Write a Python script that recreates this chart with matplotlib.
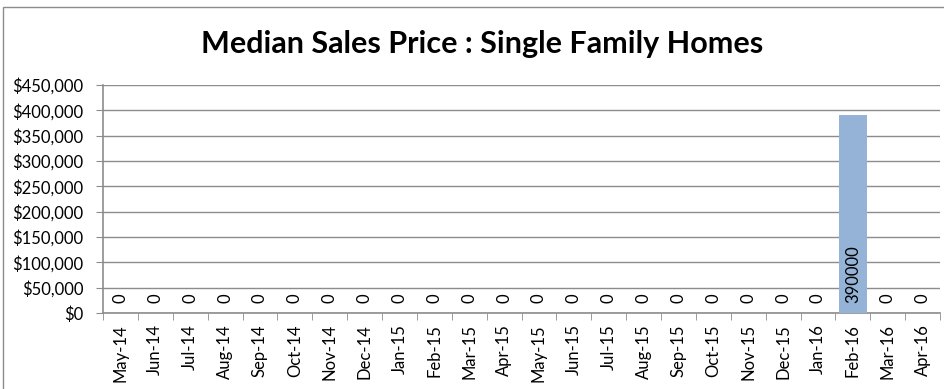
import matplotlib.pyplot as plt
from matplotlib.patches import Rectangle
from matplotlib.ticker import FuncFormatter, FixedLocator

months = ["May-14", "Jun-14", "Jul-14", "Aug-14", "Sep-14", "Oct-14", "Nov-14",
          "Dec-14", "Jan-15", "Feb-15", "Mar-15", "Apr-15", "May-15", "Jun-15",
          "Jul-15", "Aug-15", "Sep-15", "Oct-15", "Nov-15", "Dec-15", "Jan-16",
          "Feb-16", "Mar-16", "Apr-16"]
prices = [0] * 21 + [390000, 0, 0]

plt.rcParams['font.family'] = ['Lato', 'DejaVu Sans']

fig = plt.figure(figsize=(9.44, 3.89), dpi=100)
# chart area border (only the left and top edges fall inside the image)
fig.patches.append(Rectangle((3 / 944, -0.2), 1.5, 1.2 - 7 / 389,
                             transform=fig.transFigure, fill=False,
                             edgecolor='#8c8c8c', linewidth=1))
ax = fig.add_axes([103 / 944, 1 - 313 / 389, (940 - 103) / 944, (313 - 85) / 389])

x = list(range(len(months)))
ax.bar(x, prices, width=0.8, color='#95b3d7', zorder=3)

for xi, v in zip(x, prices):
    ax.annotate(str(v), (xi, 0), xytext=(0, 7), textcoords='offset points',
                rotation=90, ha='center', va='bottom', fontsize=12, zorder=4)

ax.set_xlim(-0.5, len(months) - 0.5)
ax.set_ylim(0, 450000)
ax.set_yticks(range(0, 450001, 50000))
ax.yaxis.set_major_formatter(FuncFormatter(lambda v, p: "${:,.0f}".format(v)))
ax.grid(axis='y', color='#8c8c8c', linewidth=1, zorder=0)

ax.set_xticks(x)
ax.set_xticklabels(months, rotation=90, fontsize=12)
ax.xaxis.set_minor_locator(FixedLocator([i - 0.5 for i in range(len(months) + 1)]))
ax.tick_params(axis='x', which='major', length=0, pad=8)
ax.tick_params(axis='x', which='minor', length=5, color='#8c8c8c', direction='out')
ax.tick_params(axis='y', length=5, color='#8c8c8c', labelsize=12, pad=9)

for side in ['top', 'right']:
    ax.spines[side].set_visible(False)
for side in ['left', 'bottom']:
    ax.spines[side].set_color('#8c8c8c')
    ax.spines[side].set_linewidth(1.2)

fig.text(0.511, 1 - 44 / 389, "Median Sales Price : Single Family Homes",
         ha='center', va='center', fontsize=22, fontweight='bold')

fig.savefig("out.png", dpi=100)
